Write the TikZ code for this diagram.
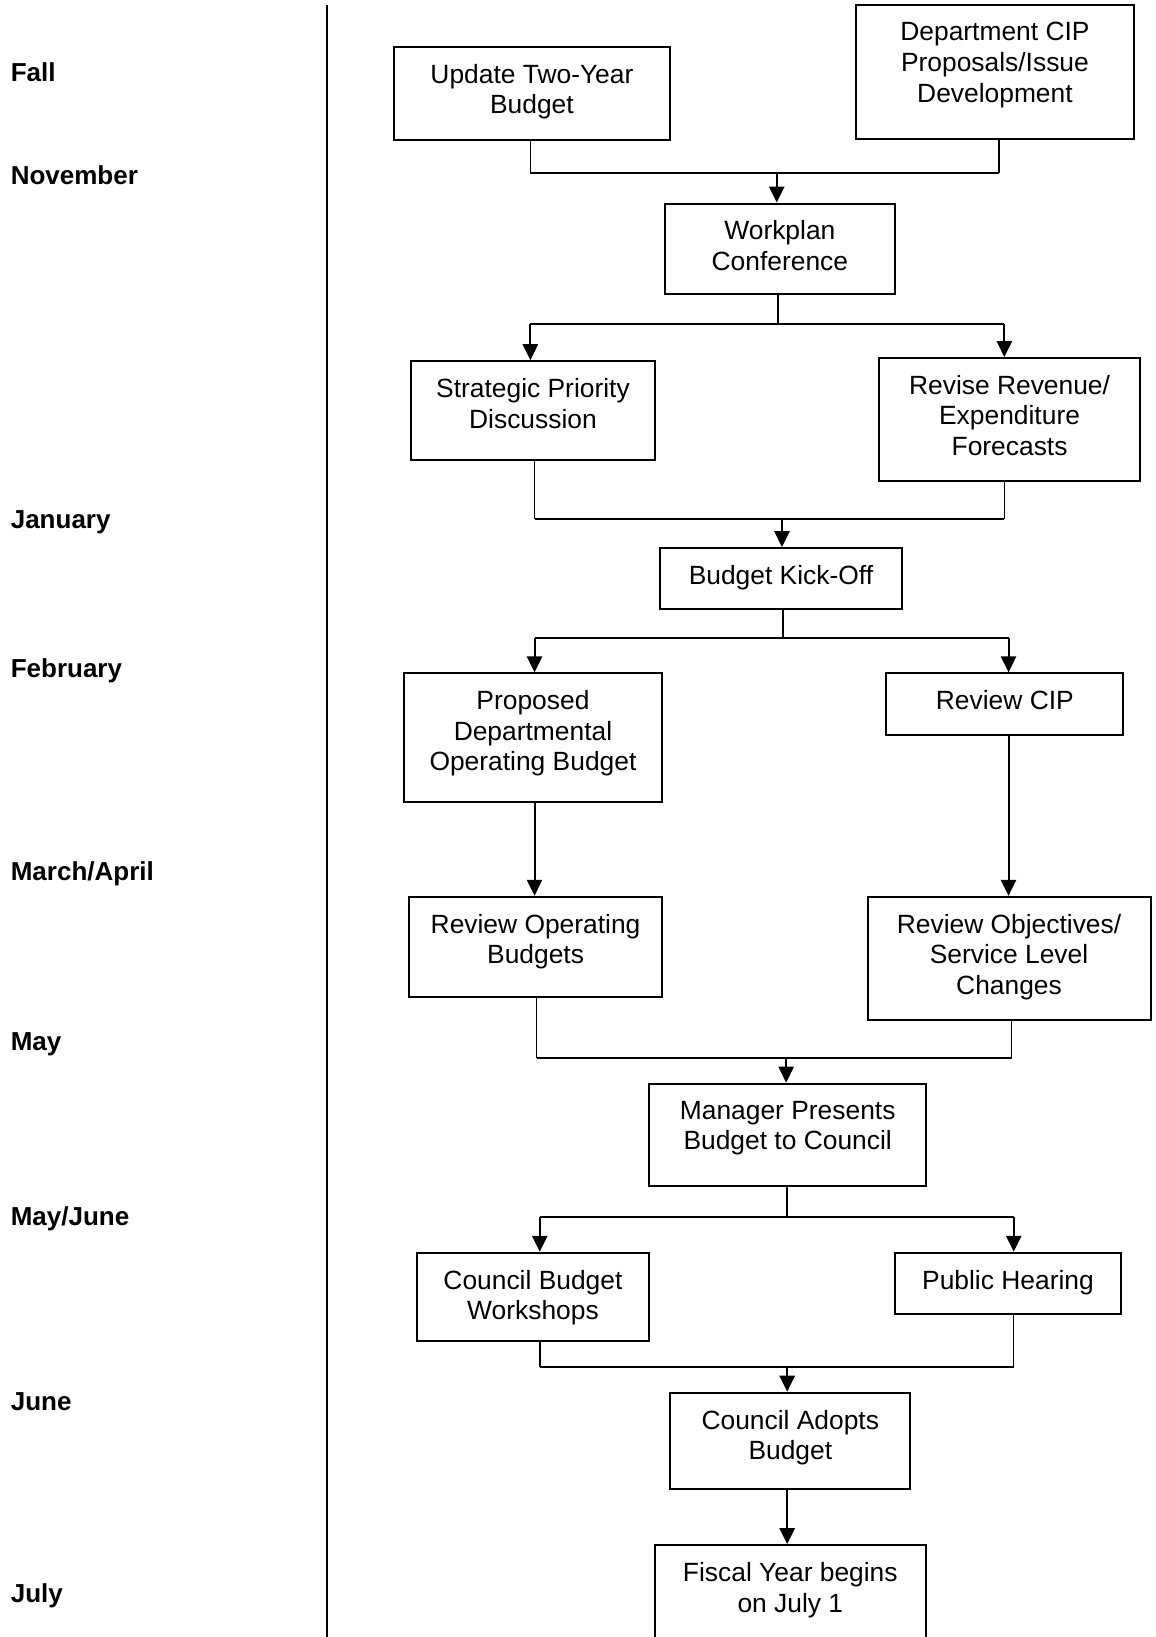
\documentclass[tikz,border=0pt]{standalone}
\usepackage{fontspec}
\setmainfont{Liberation Sans}
\usetikzlibrary{fit,arrows.meta}
\tikzset{
  box/.style={draw, line width=1pt, inner sep=0pt},
  txt/.style={align=center, inner sep=0pt, anchor=north, font=\fontsize{13.2}{15.3}\selectfont},
  month/.style={anchor=base west, inner sep=0pt, font=\fontsize{13}{15.3}\selectfont\bfseries},
  stub/.style={line width=0.75pt},
  link/.style={line width=1pt},
  arr/.style={line width=1pt, -{Triangle[length=8pt,width=7.6pt]}},
}
\begin{document}
\begin{tikzpicture}[x=0.5222pt, y=-0.5222pt]
\clip (0,0) rectangle (1107,1568);
\fill[white] (0,0) rectangle (1107,1568);
% separator
\coordinate (sepT) at (313,5);
\coordinate (sepB) at (313,1600);
\draw[line width=1pt] (sepT) -- (sepB);
% months
\node[month] (mFall) at (10,78.5) {Fall};
\node[month] (mNov) at (10,176.5) {November};
\node[month] (mJan) at (10,506.5) {January};
\node[month] (mFeb) at (10,648.5) {February};
\node[month] (mMar) at (10,843.5) {March/April};
\node[month] (mMay) at (10,1006.5) {May};
\node[month] (mMJ) at (10,1173.5) {May/June};
\node[month] (mJun) at (10,1351.5) {June};
\node[month] (mJul) at (10,1534.5) {July};
% boxes
\node[box, fit={(377,45) (642,134)}] (upd) {};
\node[box, fit={(820,5) (1086,133)}] (dept) {};
\node[box, fit={(637,195) (857,282)}] (work) {};
\node[box, fit={(394,346) (627,441)}] (strat) {};
\node[box, fit={(842,343) (1092,461)}] (rev) {};
\node[box, fit={(632,525) (864,583)}] (kick) {};
\node[box, fit={(387,645) (634,768)}] (prop) {};
\node[box, fit={(849,645) (1076,704)}] (rcip) {};
\node[box, fit={(392,859) (634,955)}] (rop) {};
\node[box, fit={(831,859) (1102,977)}] (robj) {};
\node[box, fit={(622,1038) (887,1136)}] (mgr) {};
\node[box, fit={(399,1200) (622,1284)}] (cbw) {};
\node[box, fit={(857,1200) (1074,1259)}] (pub) {};
\node[box, fit={(642,1334) (872,1426)}] (adopt) {};
\node[box, fit={(627,1480) (887,1600)}] (fisc) {};
% texts
\node[txt] (upd-t) at ([yshift=-8.9pt]upd.north) {Update Two-Year\\Budget};
\node[txt] (dept-t) at ([yshift=-8.9pt]dept.north) {Department CIP\\Proposals/Issue\\Development};
\node[txt] (work-t) at ([yshift=-8.9pt]work.north) {Workplan\\Conference};
\node[txt] (strat-t) at ([yshift=-8.9pt]strat.north) {Strategic Priority\\Discussion};
\node[txt] (rev-t) at ([yshift=-8.9pt]rev.north) {Revise Revenue/\\Expenditure\\Forecasts};
\node[txt] (kick-t) at ([yshift=-8.9pt]kick.north) {Budget Kick-Off};
\node[txt] (prop-t) at ([yshift=-8.9pt]prop.north) {Proposed\\Departmental\\Operating Budget};
\node[txt] (rcip-t) at ([yshift=-8.9pt]rcip.north) {Review CIP};
\node[txt] (rop-t) at ([yshift=-8.9pt]rop.north) {Review Operating\\Budgets};
\node[txt] (robj-t) at ([yshift=-8.9pt]robj.north) {Review Objectives/\\Service Level\\Changes};
\node[txt] (mgr-t) at ([yshift=-8.9pt]mgr.north) {Manager Presents\\Budget to Council};
\node[txt] (cbw-t) at ([yshift=-8.9pt]cbw.north) {Council Budget\\Workshops};
\node[txt] (pub-t) at ([yshift=-8.9pt]pub.north) {Public Hearing};
\node[txt] (adopt-t) at ([yshift=-8.9pt]adopt.north) {Council Adopts\\Budget};
\node[txt] (fisc-t) at ([yshift=-8.9pt]fisc.north) {Fiscal Year begins\\on July 1};
% junction coordinates
\coordinate (j1) at (744,166); \coordinate (j1l) at (508,166); \coordinate (j1r) at (957,166);
\coordinate (j2) at (745,310); \coordinate (j2l) at (508,310); \coordinate (j2r) at (962,310);
\coordinate (j3) at (749,497); \coordinate (j3l) at (512,497); \coordinate (j3r) at (962,497);
\coordinate (j4) at (750,611); \coordinate (j4l) at (512,611); \coordinate (j4r) at (966,611);
\coordinate (j5) at (753,1013); \coordinate (j5l) at (514,1013); \coordinate (j5r) at (969,1013);
\coordinate (j6) at (754,1166); \coordinate (j6l) at (517,1166); \coordinate (j6r) at (971,1166);
\coordinate (j7) at (754,1309); \coordinate (j7l) at (517,1309); \coordinate (j7r) at (971,1309);
% merge 1
\draw[stub] (upd.south -| j1l) -- (j1l);
\draw[stub] (dept.south -| j1r) -- (j1r);
\draw[link] (j1l) -- (j1r);
\draw[arr] (j1) -- (work.north -| j1);
% split 2
\draw[stub] (work.south -| j2) -- (j2);
\draw[link] (j2l) -- (j2r);
\draw[arr] (j2l) -- (strat.north -| j2l);
\draw[arr] (j2r) -- (rev.north -| j2r);
% merge 3
\draw[stub] (strat.south -| j3l) -- (j3l);
\draw[stub] (rev.south -| j3r) -- (j3r);
\draw[link] (j3l) -- (j3r);
\draw[arr] (j3) -- (kick.north -| j3);
% split 4
\draw[stub] (kick.south -| j4) -- (j4);
\draw[link] (j4l) -- (j4r);
\draw[arr] (j4l) -- (prop.north -| j4l);
\draw[arr] (j4r) -- (rcip.north -| j4r);
% verticals
\draw[arr] (prop.south -| j4l) -- (rop.north -| j4l);
\draw[arr] (rcip.south -| j4r) -- (robj.north -| j4r);
% merge 5
\draw[stub] (rop.south -| j5l) -- (j5l);
\draw[stub] (robj.south -| j5r) -- (j5r);
\draw[link] (j5l) -- (j5r);
\draw[arr] (j5) -- (mgr.north -| j5);
% split 6
\draw[stub] (mgr.south -| j6) -- (j6);
\draw[link] (j6l) -- (j6r);
\draw[arr] (j6l) -- (cbw.north -| j6l);
\draw[arr] (j6r) -- (pub.north -| j6r);
% merge 7
\draw[stub] (cbw.south -| j7l) -- (j7l);
\draw[stub] (pub.south -| j7r) -- (j7r);
\draw[link] (j7l) -- (j7r);
\draw[arr] (j7) -- (adopt.north -| j7);
% final
\draw[arr] (adopt.south -| j7) -- (fisc.north -| j7);
\end{tikzpicture}
\end{document}
